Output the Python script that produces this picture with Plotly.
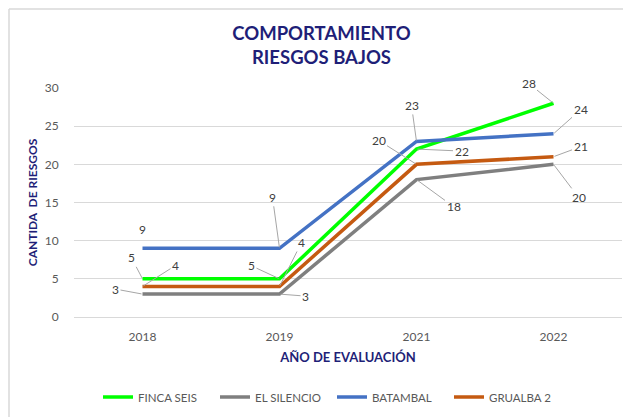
import plotly.graph_objects as go

years = ["2018", "2019", "2021", "2022"]
finca_seis = [5, 5, 22, 28]
el_silencio = [3, 3, 18, 20]
batambal = [9, 9, 23, 24]
grualba_2 = [4, 4, 20, 21]

series_names = ["FINCA SEIS", "EL SILENCIO", "BATAMBAL", "GRUALBA 2"]
series_values = [finca_seis, el_silencio, batambal, grualba_2]

# styling / label placement (pixels)
colors = ["#00FF00", "#7F7F7F", "#4472C4", "#C55A11"]
label_offsets = [
    [(-11, -21), (-28, -13), (45, 2), (-25, -20)],
    [(-27, -5), (26, 2), (37, 27), (25, 33)],
    [(0, -19), (-7, -51), (-5, -36), (27, -24)],
    [(33, -21), (22, -44), (-38, -24), (27, -10)],
]
no_leader = {(2, 0)}

FONT = "Lato, Calibri, Carlito, sans-serif"
NAVY = "#1F1F78"
TXT = "#595959"

# figure geometry (the page adds an 8px body margin)
W, H = 623, 417
L, R, T, B = 66, 9, 80, 108
PW, PH = W - L - R, H - T - B


def px_x(fx):
    return (fx - L) / PW


def px_y(fy):
    return (H - B - fy) / PH


fig = go.Figure()
for name, vals, col in zip(series_names, series_values, colors):
    fig.add_trace(go.Scatter(
        x=years, y=vals, name=name, mode="lines",
        line=dict(color=col, width=3.5),
        hoverinfo="skip",
    ))

annotations = []
for si, vals in enumerate(series_values):
    for pi, v in enumerate(vals):
        ax, ay = label_offsets[si][pi]
        # category axis: annotation x given as the category index
        if (si, pi) in no_leader:
            annotations.append(dict(
                x=pi, y=v, xref="x", yref="y", text=str(v),
                showarrow=False, xshift=ax, yshift=-ay,
                font=dict(family=FONT, size=12, color="#404040"),
            ))
        else:
            annotations.append(dict(
                x=pi, y=v, xref="x", yref="y", text=str(v),
                showarrow=True, ax=ax, ay=ay, arrowhead=0,
                arrowwidth=1, arrowcolor="#A6A6A6", standoff=1,
                font=dict(family=FONT, size=12, color="#404040"),
            ))

fig.update_layout(
    width=W, height=H,
    margin=dict(l=L, r=R, t=T, b=B),
    paper_bgcolor="white", plot_bgcolor="white",
    title=dict(
        text="<b>COMPORTAMIENTO<br>RIESGOS BAJOS</b>",
        x=313.5 / W, xanchor="center", xref="container",
        y=1 - 31.5 / H, yanchor="middle", yref="container",
        font=dict(family=FONT, size=18.5, color=NAVY),
    ),
    xaxis=dict(
        type="category", range=[-0.5, len(years) - 0.5],
        autorange=False, showgrid=False, zeroline=False,
        showline=False, ticks="outside", ticklen=9,
        tickcolor="rgba(0,0,0,0)",
        tickfont=dict(family=FONT, size=12, color=TXT),
        title=dict(text="<b>AÑO DE EVALUACIÓN</b>", standoff=9,
                   font=dict(family=FONT, size=13, color=NAVY)),
    ),
    yaxis=dict(
        range=[0, 30], autorange=False, dtick=5, showgrid=True,
        gridcolor="#D9D9D9", gridwidth=1, zeroline=True,
        zerolinecolor="#D9D9D9", zerolinewidth=1, showline=False,
        ticks="outside", ticklen=12, tickcolor="rgba(0,0,0,0)",
        tickfont=dict(family=FONT, size=12, color=TXT),
        title=dict(text="<b>CANTIDA  DE RIESGOS</b>", standoff=4,
                   font=dict(family=FONT, size=12, color=NAVY)),
    ),
    legend=dict(
        orientation="h", x=px_x(90), xanchor="left",
        y=px_y(389), yanchor="middle",
        font=dict(family=FONT, size=11.5, color=TXT),
        entrywidth=72, entrywidthmode="pixels",
        bgcolor="rgba(0,0,0,0)",
    ),
    annotations=annotations,
    shapes=[
        dict(type="line", xref="paper", yref="paper",
             x0=px_x(1), x1=px_x(W),
             y0=px_y(1), y1=px_y(1),
             line=dict(color="#D9D9D9", width=1.5)),
        dict(type="line", xref="paper", yref="paper",
             x0=px_x(1), x1=px_x(1),
             y0=px_y(1), y1=px_y(H),
             line=dict(color="#D9D9D9", width=1.5)),
    ],
    showlegend=True,
)

fig.write_html("out.html")
